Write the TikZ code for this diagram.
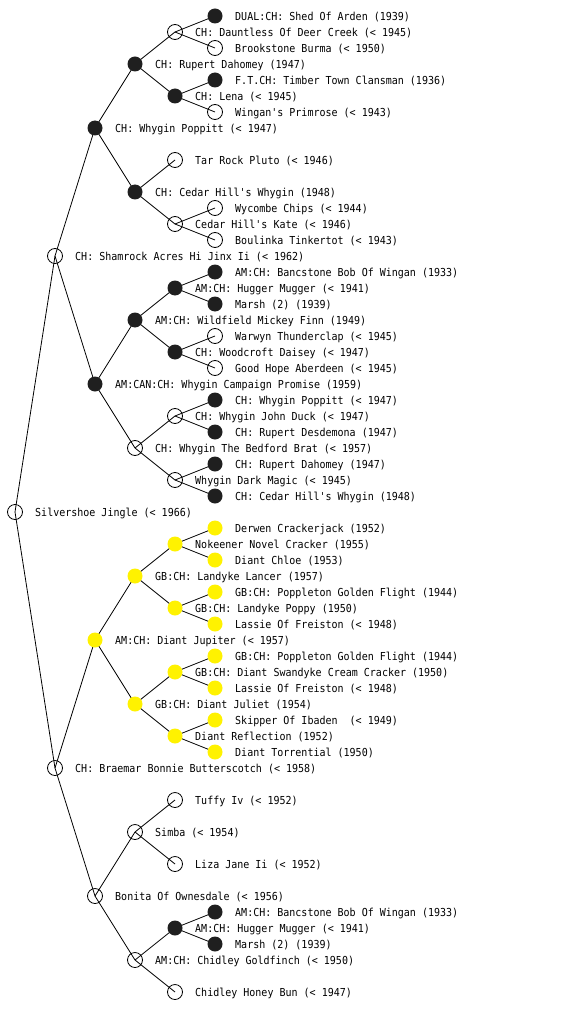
\documentclass[tikz,border=0pt]{standalone}
\usepackage{fontspec}
\setmonofont[FakeStretch=0.91]{DejaVu Sans Mono}
\usetikzlibrary{backgrounds}
\tikzset{
  dog/.style={circle, minimum size=15pt, inner sep=0pt, outer sep=0pt},
  op/.style={dog, draw=black, line width=0.8pt},
  bk/.style={dog, fill=black!88},
  ye/.style={dog, fill=yellow},
  lab/.style={font=\ttfamily\fontsize{11}{13}\selectfont, inner sep=0pt, anchor=base west},
  edge/.style={line width=0.8pt, black}
}
\newcommand\dog[5][op]{\node[#1] (#2) at (#3,#4) {}; \node[lab] (#2t) at (#3+20,#4+4.3) {#5};}
\begin{document}
\begin{tikzpicture}[x=1pt,y=-1pt]
\useasboundingbox (0,0) rectangle (560,1024);
% generation 0
\dog[op]{r}{15}{512}{Silvershoe Jingle (< 1966)}
% generation 1
\dog[op]{s}{55}{256}{CH: Shamrock Acres Hi Jinx Ii (< 1962)}
\dog[op]{b}{55}{768}{CH: Braemar Bonnie Butterscotch (< 1958)}
% generation 2
\dog[bk]{s1}{95}{128}{CH: Whygin Poppitt (< 1947)}
\dog[bk]{s2}{95}{384}{AM:CAN:CH: Whygin Campaign Promise (1959)}
\dog[ye]{b1}{95}{640}{AM:CH: Diant Jupiter (< 1957)}
\dog[op]{b2}{95}{896}{Bonita Of Ownesdale (< 1956)}
% generation 3
\dog[bk]{s11}{135}{64}{CH: Rupert Dahomey (1947)}
\dog[bk]{s12}{135}{192}{CH: Cedar Hill's Whygin (1948)}
\dog[bk]{s21}{135}{320}{AM:CH: Wildfield Mickey Finn (1949)}
\dog[op]{s22}{135}{448}{CH: Whygin The Bedford Brat (< 1957)}
\dog[ye]{b11}{135}{576}{GB:CH: Landyke Lancer (1957)}
\dog[ye]{b12}{135}{704}{GB:CH: Diant Juliet (1954)}
\dog[op]{b21}{135}{832}{Simba (< 1954)}
\dog[op]{b22}{135}{960}{AM:CH: Chidley Goldfinch (< 1950)}
% generation 4
\dog[op]{s111}{175}{32}{CH: Dauntless Of Deer Creek (< 1945)}
\dog[bk]{s112}{175}{96}{CH: Lena (< 1945)}
\dog[op]{s121}{175}{160}{Tar Rock Pluto (< 1946)}
\dog[op]{s122}{175}{224}{Cedar Hill's Kate (< 1946)}
\dog[bk]{s211}{175}{288}{AM:CH: Hugger Mugger (< 1941)}
\dog[bk]{s212}{175}{352}{CH: Woodcroft Daisey (< 1947)}
\dog[op]{s221}{175}{416}{CH: Whygin John Duck (< 1947)}
\dog[op]{s222}{175}{480}{Whygin Dark Magic (< 1945)}
\dog[ye]{b111}{175}{544}{Nokeener Novel Cracker (1955)}
\dog[ye]{b112}{175}{608}{GB:CH: Landyke Poppy (1950)}
\dog[ye]{b121}{175}{672}{GB:CH: Diant Swandyke Cream Cracker (1950)}
\dog[ye]{b122}{175}{736}{Diant Reflection (1952)}
\dog[op]{b211}{175}{800}{Tuffy Iv (< 1952)}
\dog[op]{b212}{175}{864}{Liza Jane Ii (< 1952)}
\dog[bk]{b221}{175}{928}{AM:CH: Hugger Mugger (< 1941)}
\dog[op]{b222}{175}{992}{Chidley Honey Bun (< 1947)}
% generation 5
\dog[bk]{s1111}{215}{16}{DUAL:CH: Shed Of Arden (1939)}
\dog[op]{s1112}{215}{48}{Brookstone Burma (< 1950)}
\dog[bk]{s1121}{215}{80}{F.T.CH: Timber Town Clansman (1936)}
\dog[op]{s1122}{215}{112}{Wingan's Primrose (< 1943)}
\dog[op]{s1221}{215}{208}{Wycombe Chips (< 1944)}
\dog[op]{s1222}{215}{240}{Boulinka Tinkertot (< 1943)}
\dog[bk]{s2111}{215}{272}{AM:CH: Bancstone Bob Of Wingan (1933)}
\dog[bk]{s2112}{215}{304}{Marsh (2) (1939)}
\dog[op]{s2121}{215}{336}{Warwyn Thunderclap (< 1945)}
\dog[op]{s2122}{215}{368}{Good Hope Aberdeen (< 1945)}
\dog[bk]{s2211}{215}{400}{CH: Whygin Poppitt (< 1947)}
\dog[bk]{s2212}{215}{432}{CH: Rupert Desdemona (1947)}
\dog[bk]{s2221}{215}{464}{CH: Rupert Dahomey (1947)}
\dog[bk]{s2222}{215}{496}{CH: Cedar Hill's Whygin (1948)}
\dog[ye]{b1111}{215}{528}{Derwen Crackerjack (1952)}
\dog[ye]{b1112}{215}{560}{Diant Chloe (1953)}
\dog[ye]{b1121}{215}{592}{GB:CH: Poppleton Golden Flight (1944)}
\dog[ye]{b1122}{215}{624}{Lassie Of Freiston (< 1948)}
\dog[ye]{b1211}{215}{656}{GB:CH: Poppleton Golden Flight (1944)}
\dog[ye]{b1212}{215}{688}{Lassie Of Freiston (< 1948)}
\dog[ye]{b1221}{215}{720}{Skipper Of Ibaden\ \ (< 1949)}
\dog[ye]{b1222}{215}{752}{Diant Torrential (1950)}
\dog[bk]{b2211}{215}{912}{AM:CH: Bancstone Bob Of Wingan (1933)}
\dog[bk]{b2212}{215}{944}{Marsh (2) (1939)}
% connectors
\begin{pgfonlayer}{background}
\foreach \p/\c in {r/s, r/b, s/s1, s/s2, b/b1, b/b2,
  s1/s11, s1/s12, s2/s21, s2/s22, b1/b11, b1/b12, b2/b21, b2/b22,
  s11/s111, s11/s112, s12/s121, s12/s122, s21/s211, s21/s212, s22/s221, s22/s222,
  b11/b111, b11/b112, b12/b121, b12/b122, b21/b211, b21/b212, b22/b221, b22/b222,
  s111/s1111, s111/s1112, s112/s1121, s112/s1122, s122/s1221, s122/s1222,
  s211/s2111, s211/s2112, s212/s2121, s212/s2122, s221/s2211, s221/s2212,
  s222/s2221, s222/s2222, b111/b1111, b111/b1112, b112/b1121, b112/b1122,
  b121/b1211, b121/b1212, b122/b1221, b122/b1222, b221/b2211, b221/b2212}
  \draw[edge] (\p.center) -- (\c.center);
\end{pgfonlayer}
\end{tikzpicture}
\end{document}
